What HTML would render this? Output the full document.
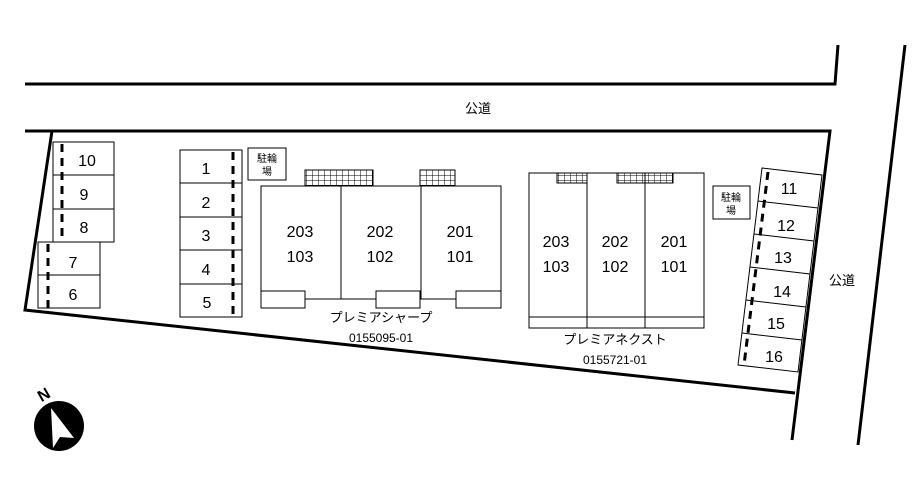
<!DOCTYPE html>
<html><head><meta charset="utf-8"><style>body{margin:0;background:#fff}svg{display:block}text{font-family:"Liberation Sans","Noto Sans CJK JP",sans-serif;fill:#000}</style></head><body>
<svg width="920" height="504" viewBox="0 0 920 504" xmlns="http://www.w3.org/2000/svg">
<g stroke="#000" fill="none">
<polyline points="25,84 835,84 838,45" stroke-width="3"/>
<polyline points="25,131 830,131 792,440" stroke-width="3"/>
<polyline points="52,131 25,310 795,393" stroke-width="3"/>
<line x1="905" y1="45" x2="858" y2="445" stroke-width="3"/>
<g stroke-width="1">
<rect x="53" y="142" width="61" height="100"/><line x1="53" y1="175" x2="114" y2="175"/><line x1="53" y1="209" x2="114" y2="209"/>
<rect x="38" y="242" width="62" height="66"/><line x1="38" y1="275" x2="100" y2="275"/>
<rect x="180" y="150" width="62" height="167"/>
<line x1="180" y1="183" x2="242" y2="183"/><line x1="180" y1="217" x2="242" y2="217"/><line x1="180" y1="250" x2="242" y2="250"/><line x1="180" y1="284" x2="242" y2="284"/>
<rect x="248" y="148" width="38" height="32"/><rect x="713" y="186" width="37" height="33"/>
<polyline points="305,299 305,291 261,291 261,186 501,186 501,291 456,291 456,299 420,299"/>
<rect x="261" y="291" width="44" height="17"/><rect x="376" y="291" width="44" height="17"/><rect x="456" y="291" width="45" height="17"/>
<line x1="305" y1="299" x2="376" y2="299"/><line x1="420" y1="299" x2="456" y2="299"/>
<line x1="341" y1="186" x2="341" y2="299"/><line x1="421" y1="186" x2="421" y2="299"/>
<rect x="529" y="173" width="175" height="155"/><line x1="529" y1="317" x2="704" y2="317"/>
<line x1="587" y1="173" x2="587" y2="328"/><line x1="645" y1="173" x2="645" y2="328"/>
<polygon points="762,168 822,175 798,372 738,365"/>
<line x1="758" y1="201" x2="818" y2="208"/><line x1="754" y1="234" x2="814" y2="241"/><line x1="750" y1="267" x2="810" y2="274"/><line x1="746" y1="300" x2="806" y2="307"/><line x1="742" y1="333" x2="802" y2="340"/>
</g>
<g stroke-width="3" stroke-dasharray="8,6">
<line x1="62" y1="144" x2="62" y2="242"/><line x1="48" y1="244" x2="48" y2="308"/>
<line x1="233" y1="152" x2="233" y2="317"/>
<line x1="768" y1="172" x2="744" y2="365"/>
</g>
</g>
<defs><pattern id="g" width="6" height="5" patternUnits="userSpaceOnUse"><path d="M0 0H6M0 0V5" stroke="#000" stroke-width="1" fill="none"/></pattern></defs>
<g stroke="#000" stroke-width="1">
<rect x="305" y="170" width="68" height="16" fill="url(#g)"/><rect x="420" y="170" width="35" height="16" fill="url(#g)"/>
<rect x="557" y="173" width="30" height="10" fill="url(#g)"/><rect x="617" y="173" width="56" height="10" fill="url(#g)"/>
</g>
<g font-size="16" text-anchor="middle">
<text x="87" y="166">10</text><text x="84" y="200">9</text><text x="84" y="233">8</text><text x="73" y="268">7</text><text x="73" y="300">6</text>
<text x="206" y="174">1</text><text x="206" y="208">2</text><text x="206" y="241">3</text><text x="206" y="275">4</text><text x="207" y="308">5</text>
<text x="300" y="237">203</text><text x="300" y="262">103</text><text x="380" y="237">202</text><text x="380" y="262">102</text><text x="460" y="237">201</text><text x="460" y="262">101</text>
<text x="556" y="247">203</text><text x="556" y="272">103</text><text x="615" y="247">202</text><text x="615" y="272">102</text><text x="674" y="247">201</text><text x="674" y="272">101</text>
<text x="789" y="194">11</text><text x="786" y="231">12</text><text x="783" y="263">13</text><text x="782" y="297">14</text><text x="776" y="329">15</text><text x="774" y="362">16</text>
</g>
<g font-size="13" text-anchor="middle">
<text x="478" y="113">公道</text><text x="842" y="285">公道</text>
<text x="381" y="322">プレミアシャープ</text><text x="615" y="344">プレミアネクスト</text>
</g>
<g font-size="12" text-anchor="middle"><text x="381" y="342">0155095-01</text><text x="615" y="364">0155721-01</text></g>
<g font-size="10" text-anchor="middle"><text x="267" y="162">駐輪</text><text x="267" y="175">場</text><text x="731" y="201">駐輪</text><text x="731" y="214">場</text></g>
<circle cx="59" cy="426" r="25" fill="#000"/>
<polygon points="51,408 53,448 60,437 74,438" fill="#fff"/>
<text x="44" y="400" font-size="16" font-weight="bold" transform="rotate(-30 44 395)" text-anchor="middle">N</text>
</svg>
</body></html>
